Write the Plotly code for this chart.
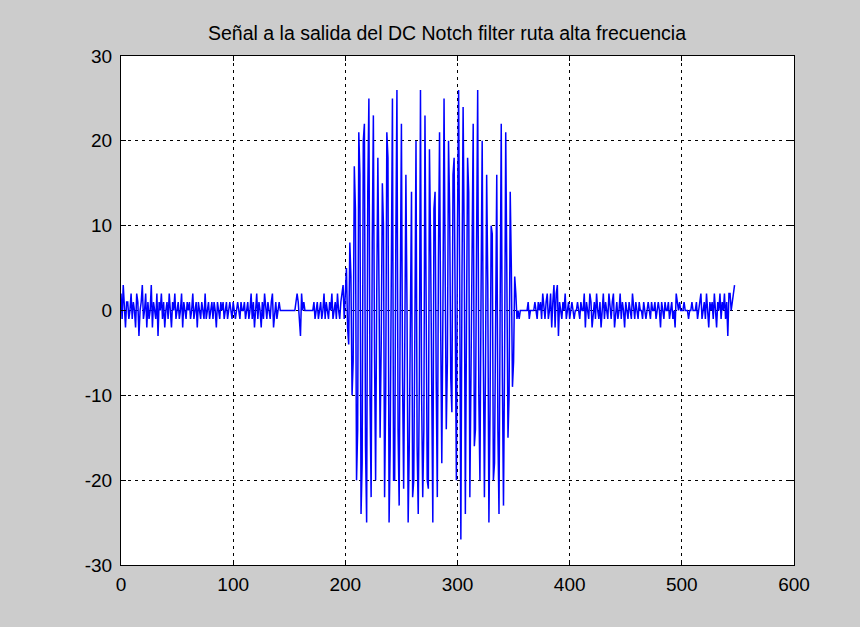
import plotly.graph_objects as go

# Output of the DC notch filter, high-frequency path (one sample per index)
pre_burst = [
    2, -1, 3, 0, -2, 1, 1, -1, 0, 2, -1, 1, 0, -2, 2, 1, -3, 0, 1, 3,
    -1, 0, 2, -2, 1, -1, 0, 3, -2, 1, 0, -1, 2, -3, 1, 0, 2, -1, 1, -2,
    0, 1, -1, 2, 0, -2, 1, 0, 2, -1, 0, 1, -1, 0, 2, -2, 1, 0, -1, 1,
    0, 1, -1, 0, 2, -1, 0, 1, -2, 1, 0, -1, 1, 0, -1, 2, -1, 0, 1, -1,
    0, 1, -1, 1, 0, -2, 1, 0, -1, 1, 0, 1, -1, 0, 1, -1, 0, 1, 0, -1,
    1, 0, -1, 0, 1, 0, -1, 1, 0, 0, 1, -1, 0, 1, -1, 0, 2, -1, 1, -2,
    0, 2, -1, 1, 0, -2, 1, -1, 2, 0, -1, 1, 0, -1, 1, 2, -2, 0, 1, -1,
    0, 1, 0, 0, 0, 0, 0, 0, 0, 0, 0, 0, 0, 0, 0, 0, 1, 2, 1, -2,
    -3, 2, 0, 1, 0, 0, 0, 0, 0, 0, 0, 0, 1, -1, 0, 1, -1, 0, 1, -1,
    0, 2, -1, 1, 0, -1, 1, 0, 2, -1, 0, 1, -1, 2, 0, -1, 1, 2, 3, -1,
]

burst = [
    3, 5, -2, -4, 8, 4, -10, -6, 17, 12, -20, -14, 21, 16, -24, -18,
    20, 22, -16, -25, 14, 25, -10, -22, 8, 23, -5, -20, 2, 18, 3, -15,
    -4, 15, 10, -22, -10, 21, 18, -25, -16, 14, 25, -20, -20, 8, 26, -14,
    -23, 2, 22, -8, -21, -4, 16, 0, -25, -16, 5, 14,
    -22, -20, -2, 20, -16, -24, -8, 26, -10, -22, -14, 23, 2, -20, -21, 19,
    8, -14, -25, 12, 14, -8, -22, 6, 21, -2, -18, 0, 25, 5, -14, -6,
    20, 12, -8, -12, 16, 18, -4, -20, 10, 26, 2, -27, 4, 24, 8, -24,
    -2, 18, 14, -22, -8, 13, 22, -16, -14, 8, 26, -10, -20, 2, 20, -5,
    -22, -6, 16, 3, -25, -12, 10, 9, -20, -18, 6, 16, -14, -24, 0, 22,
    -8, -23, -5, 21, 4, -15, -10, 14, 5, -9, -6, 4, 2, -1,
]

post_burst = [
    0, -1, 0, 0, 0, 0, 0, 0, 0, 1, -1, 0, 0, 0, 0, 1, 0, -1, 1,
    0, 1, -1, 2, 0, -1, 1, 2, -1, 0, 2, -2, 1, 3, -2, 2, 3, -3, 1, 0,
    -1, 1, 0, 2, -1, 0, 1, -1, 0, 1, 0, -1, 0, 0, 1, 0, -1, 1, 0, 0,
    2, -2, 1, 0, -1, 2, 1, -2, 0, 1, -1, 2, 0, -1, 1, -2, 0, 2, -1, 1,
    0, -1, 2, 0, -1, 1, 2, -2, 0, 1, -1, 0, 2, -1, 1, 0, -2, 1, 0, -1,
    1, 0, -1, 2, 0, -1, 1, 0, -1, 1, 0, 0, -1, 1, 0, -1, 0, 1, 0, -1,
    1, 0, 0, 1, -1, 0, 1, 0, -2, 1, 0, -1, 1, 0, 0, 1, -1, 0, 1, -1,
    0, -2, 2, 1, 0, 1, 0, 0, 0, 1, 0, 0, 0, -1, 0, 0, 1, 0, 0, 0,
    1, -1, 0, 1, 2, -1, 0, 1, -1, 2, 0, -2, 1, 0, 1, -1, 2, 0, -2, 1,
    0, 2, -1, 1, 0, 2, -1, 1, -3, 2, 2, 0, 1, 2, 3,
]

x_ticks = [0, 100, 200, 300, 400, 500, 600]
y_ticks = [-30, -20, -10, 0, 10, 20, 30]
title_text = "Señal a la salida del DC Notch filter ruta alta frecuencia"

signal = pre_burst + burst + post_burst
samples = list(range(len(signal)))

font_family = "Liberation Sans, Arial, Helvetica, sans-serif"

fig = go.Figure(
    go.Scatter(
        x=samples,
        y=signal,
        mode="lines",
        line=dict(color="#0000ff", width=1.5),
        hoverinfo="x+y",
    )
)

axis_common = dict(
    showline=True,
    linecolor="black",
    linewidth=1,
    mirror="ticks",
    ticks="inside",
    ticklen=5,
    tickcolor="black",
    showgrid=True,
    gridcolor="black",
    gridwidth=1,
    griddash="3px,4px",
    zeroline=False,
    tickfont=dict(family=font_family, size=19, color="black"),
)

fig.update_xaxes(
    range=[0, 600],
    tickvals=x_ticks,
    ticktext=[str(v) for v in x_ticks],
    ticklabelstandoff=2,
    **axis_common,
)
fig.update_yaxes(
    range=[-30, 30],
    tickvals=y_ticks,
    ticktext=[str(v) for v in y_ticks],
    ticklabelstandoff=4,
    **axis_common,
)

fig.update_layout(
    width=860,
    height=627,
    margin=dict(l=121, r=66, t=56, b=62),
    paper_bgcolor="#cccccc",
    plot_bgcolor="white",
    showlegend=False,
    title=dict(
        text=title_text,
        x=447 / 860,
        xanchor="center",
        y=1 - 33 / 627,
        yanchor="middle",
        font=dict(family=font_family, size=19.5, color="black"),
    ),
)

fig.write_html("out.html")
